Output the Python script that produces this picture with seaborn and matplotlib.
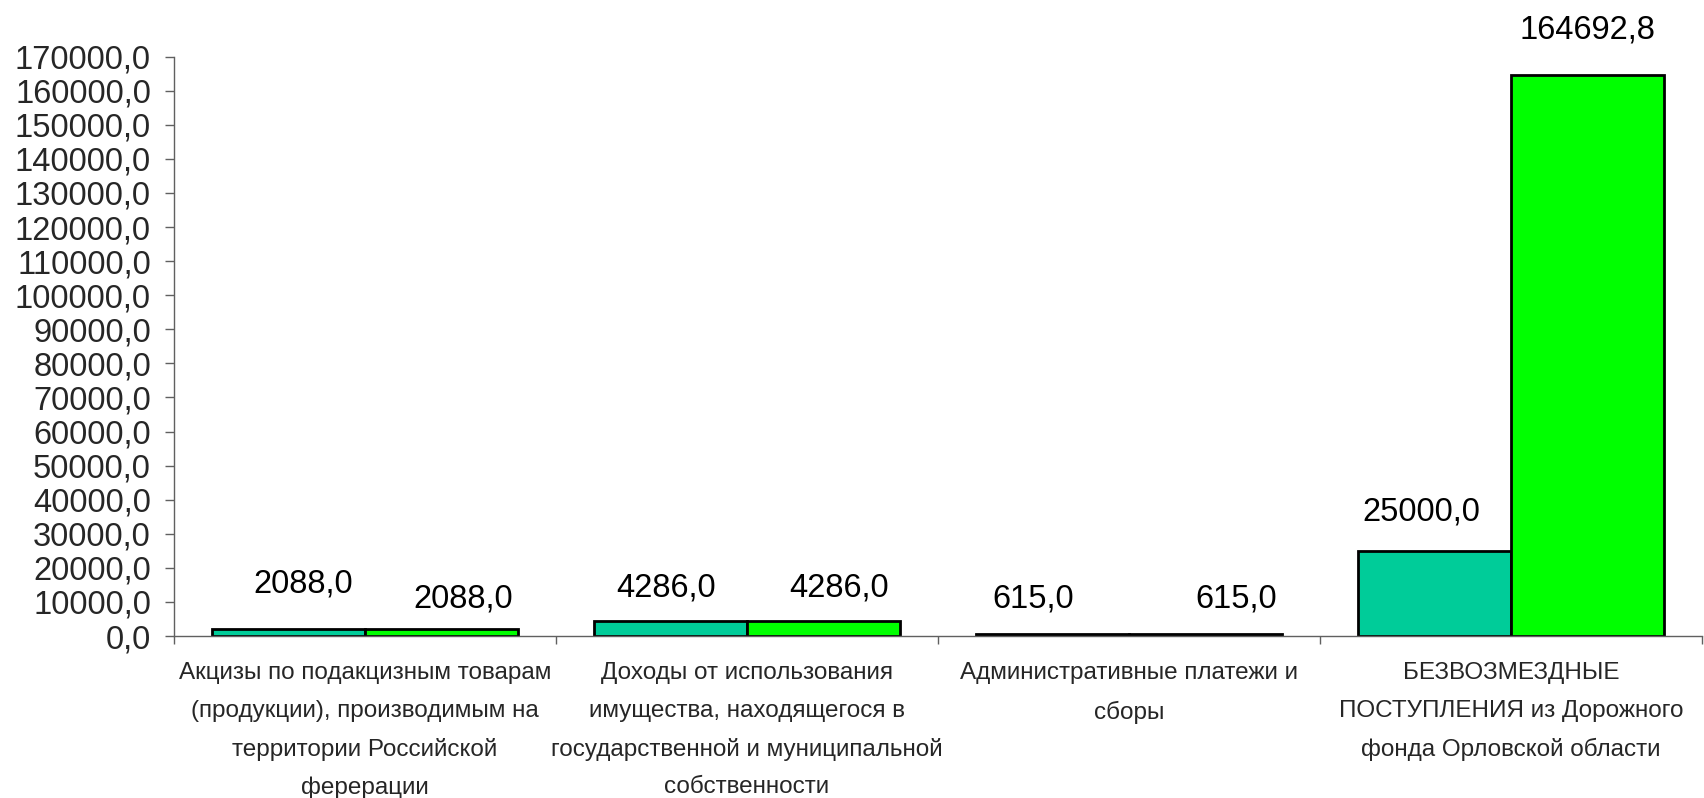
import numpy as np
import pandas as pd
import seaborn as sns
import matplotlib.pyplot as plt
from matplotlib.ticker import FixedLocator

# Data
categories = [
    "Акцизы по подакцизным товарам\n(продукции), производимым на\nтерритории Российской\nферерации",
    "Доходы от использования\nимущества, находящегося в\nгосударственной и муниципальной\nсобственности",
    "Административные платежи и\nсборы",
    "БЕЗВОЗМЕЗДНЫЕ\nПОСТУПЛЕНИЯ из Дорожного\nфонда Орловской области",
]
seriesNames = ["План", "Уточнённый план"]
seriesA = [2088.0, 4286.0, 615.0, 25000.0]
seriesB = [2088.0, 4286.0, 615.0, 164692.8]
yTicks = list(range(0, 170001, 10000))

# Label nudges (pixels) to sit where the original put them
labelOffsets = [
    [(15, 45), (-5, 33), (-20, 35), (-13, 39)],
    [(22, 30), (16, 33), (31, 35), (0, 45)],
]

colors = ["#00CC99", "#00FF00"]

df = pd.DataFrame({
    "category": categories * 2,
    "series": [seriesNames[0]] * 4 + [seriesNames[1]] * 4,
    "value": seriesA + seriesB,
})

sns.set_theme(style="white")
plt.rcParams['font.family'] = ['Liberation Sans', 'DejaVu Sans']

fig = plt.figure(figsize=(17.04, 7.98), dpi=100)
ax = fig.add_axes([0.102, 0.203, 0.897, 0.726])

sns.barplot(data=df, x="category", y="value", hue="series", palette=colors, saturation=1,
            edgecolor="black", linewidth=2, width=0.8, gap=0, ax=ax, legend=False)

ax.set_ylim(0, 170000)
ax.set_xlim(-0.5, 3.5)
ax.set_yticks(yTicks)
ax.set_yticklabels([f"{v:.1f}".replace('.', ',') for v in yTicks], fontsize=23.5)
ax.tick_params(axis='y', direction='out', length=6.5, width=1, color='#606060', pad=10, left=True)

# category labels under each group, boundary ticks between them
ax.tick_params(axis='x', which='major', length=0, pad=19)
ax.set_xticklabels(categories, fontsize=17.5, linespacing=1.9)
ax.xaxis.set_minor_locator(FixedLocator(np.arange(-0.5, 3.6, 1.0)))
ax.tick_params(axis='x', which='minor', direction='out', length=6, width=1, color='#606060', bottom=True)

ax.set_xlabel("")
ax.set_ylabel("")
for side in ["top", "right"]:
    ax.spines[side].set_visible(False)
for side in ["left", "bottom"]:
    ax.spines[side].set_color('#606060')
    ax.spines[side].set_linewidth(1)

for container, offsets in zip(ax.containers, labelOffsets):
    for bar, (dx, dy) in zip(container, offsets):
        value = bar.get_height()
        ax.annotate(f"{value:.1f}".replace('.', ','),
                    xy=(bar.get_x() + bar.get_width() / 2, value),
                    xytext=(dx, dy), textcoords='offset pixels',
                    ha='center', va='center', fontsize=23.5, color='black',
                    annotation_clip=False)

fig.savefig("out.png", dpi=100)
